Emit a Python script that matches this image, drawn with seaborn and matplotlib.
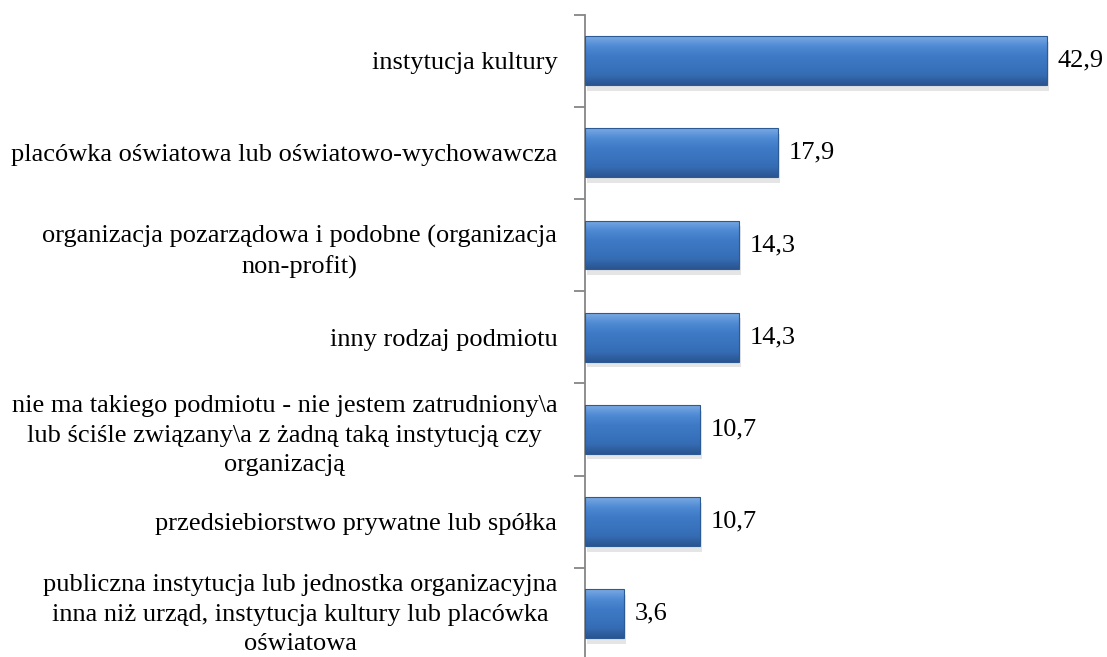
import numpy as np
import pandas as pd
import matplotlib
matplotlib.use("Agg")
import matplotlib.pyplot as plt
import matplotlib.transforms as mtransforms
import seaborn as sns
from matplotlib.colors import LinearSegmentedColormap
from matplotlib.patches import Rectangle

categories = [
    "instytucja kultury",
    "placówka oświatowa lub oświatowo-wychowawcza",
    "organizacja pozarządowa i podobne (organizacja\nnon-profit)",
    "inny rodzaj podmiotu",
    "nie ma takiego podmiotu - nie jestem zatrudniony\\a\nlub ściśle związany\\a z żadną taką instytucją czy\norganizacją",
    "przedsiebiorstwo prywatne lub spółka",
    "publiczna instytucja lub jednostka organizacyjna\ninna niż urząd, instytucja kultury lub placówka\noświatowa",
]
values = [42.9, 17.9, 14.3, 14.3, 10.7, 10.7, 3.6]

df = pd.DataFrame({"kategoria": categories, "procent": values})

sns.set_style("white")
plt.rcParams["font.family"] = ["Liberation Serif", "DejaVu Serif"]
plt.rcParams["text.color"] = "black"
plt.rcParams["ytick.color"] = "black"

fig = plt.figure(figsize=(11.07, 6.57), dpi=100)
ax = fig.add_axes([0.5285, -0.0046, 0.467, 0.9825])

sns.barplot(data=df, y="kategoria", x="procent", orient="h", ax=ax,
            color="#3c78c4", width=0.53, edgecolor="#2b5a96", linewidth=0.8,
            saturation=1)

# gradient + shadow to mimic the bevelled office-style bars
grad = LinearSegmentedColormap.from_list(
    "bevel", ["#7aaae2", "#4f8ad4", "#3e7ac6", "#3a74bf", "#356cb4", "#2a5590"])
for p in ax.patches:
    x0, y0 = p.get_x(), p.get_y()
    w, h = p.get_width(), p.get_height()
    ax.add_patch(Rectangle((x0 + 0.2, y0 + 0.06), w, h, facecolor="#000000",
                           alpha=0.10, edgecolor="none", zorder=1))
    img = ax.imshow(np.linspace(0, 1, 64).reshape(-1, 1), cmap=grad,
                    extent=(x0, x0 + w, y0 + h, y0), aspect="auto",
                    zorder=2, origin="upper")
    img.set_clip_path(p)
    p.set_zorder(3)
    p.set_facecolor("none")

for i, v in enumerate(values):
    ax.text(v + 1.0, i, f"{v:.1f}".replace(".", ","), va="center",
            ha="left", fontsize=19, color="black")

ax.set_xlim(0, 48)
ax.set_ylim(len(categories) - 0.5, -0.5)
ax.set_xlabel("")
ax.set_ylabel("")
ax.set_xticks([])
sns.despine(ax=ax, top=True, right=True, bottom=True, left=False)
ax.spines["left"].set_color("#868686")
ax.spines["left"].set_linewidth(1.3)

ax.set_yticks(np.arange(-0.5, len(categories), 1.0), minor=True)
ax.tick_params(axis="y", which="minor", length=8, width=1.3, color="#868686",
               direction="out", left=True)
ax.tick_params(axis="y", which="major", length=0, pad=20, labelsize=19,
               labelcolor="black")
labels = ax.get_yticklabels()
for lbl in labels:
    lbl.set_multialignment("center")
    lbl.set_linespacing(1.45)

# lift the last (three-line) label a little so it stays inside the figure
shift = mtransforms.ScaledTranslation(0, 4 / 72, fig.dpi_scale_trans)
for t in ax.yaxis.get_major_ticks()[-1:]:
    t.label1.set_transform(t.label1.get_transform() + shift)

fig.savefig("out.png", dpi=100)
